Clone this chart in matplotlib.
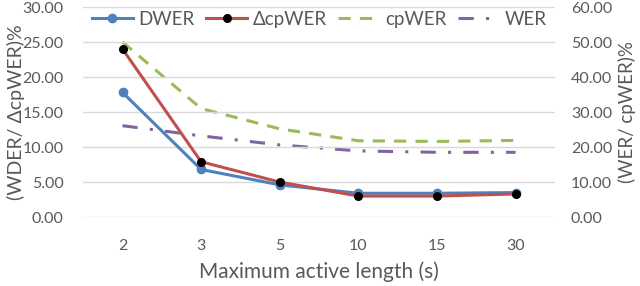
import matplotlib.pyplot as plt
import matplotlib as mpl
import numpy as np

TEXT_COLOR = '#595959'
GRID_COLOR = '#d9d9d9'

mpl.rcParams['font.family'] = ['Lato', 'DejaVu Sans']
mpl.rcParams['text.color'] = TEXT_COLOR
mpl.rcParams['axes.labelcolor'] = TEXT_COLOR
mpl.rcParams['xtick.color'] = TEXT_COLOR
mpl.rcParams['ytick.color'] = TEXT_COLOR

lengths = ['2', '3', '5', '10', '15', '30']
dwer = [17.8, 6.8, 4.6, 3.4, 3.4, 3.5]
dcpwer = [24.0, 7.9, 5.0, 3.0, 3.0, 3.3]
cpwer = [50.0, 31.0, 25.2, 21.8, 21.6, 21.9]
wer = [26.1, 23.2, 20.6, 18.9, 18.5, 18.5]

x = np.arange(len(lengths))

fig, ax1 = plt.subplots(figsize=(6.4, 2.86), dpi=100)
fig.subplots_adjust(left=0.13, right=0.867, bottom=0.241, top=0.9755)
ax2 = ax1.twinx()

l1, = ax1.plot(x, dwer, color='#4F81BD', lw=2.2, marker='o', ms=6, label='DWER', zorder=3)
l2, = ax1.plot(x, dcpwer, color='#C0504D', lw=2.2, marker='o', ms=5.5,
               markerfacecolor='black', markeredgecolor='black', label='\u0394cpWER', zorder=4)
l3, = ax2.plot(x, cpwer, color='#9BBB59', lw=2.2, ls=(0, (4, 3)), label='cpWER')
l4, = ax2.plot(x, wer, color='#8064A2', lw=2.2, ls=(0, (5, 4, 1, 4)), label='WER')

ax1.set_xlim(-0.5, len(lengths) - 0.5)
ax1.set_xticks(x)
ax1.set_xticklabels(lengths)
ax1.set_ylim(0, 30)
ax1.set_yticks(np.arange(0, 31, 5))
ax2.set_ylim(0, 60)
ax2.set_yticks(np.arange(0, 61, 10))
ax1.yaxis.set_major_formatter(mpl.ticker.FormatStrFormatter('%.2f'))
ax2.yaxis.set_major_formatter(mpl.ticker.FormatStrFormatter('%.2f'))

for ax in (ax1, ax2):
    for s in ax.spines.values():
        s.set_visible(False)
    ax.tick_params(length=0, labelsize=11.5)
ax1.tick_params(axis='x', pad=16)
ax1.tick_params(axis='y', pad=14)
ax2.tick_params(axis='y', pad=11.5)
ax1.grid(axis='y', color=GRID_COLOR, lw=1)
ax1.set_axisbelow(True)
ax2.set_zorder(0)
ax1.set_zorder(1)
ax1.patch.set_visible(False)

ax1.set_xlabel('Maximum active length (s)', fontsize=15, labelpad=6)
ax1.set_ylabel('(WDER/ \u0394cpWER)%', fontsize=14)
ax2.set_ylabel('(WER/ cpWER)%', fontsize=13.5)
ax1.yaxis.set_label_coords(-0.123, 0.5)
ax2.yaxis.set_label_coords(1.133, 0.5)

leg = ax1.legend(handles=[l1, l2, l3, l4], ncol=4, loc='upper center',
                 bbox_to_anchor=(0.5, 0.99), frameon=True, fontsize=13.5,
                 handlelength=2.2, columnspacing=0.6, handletextpad=0.3,
                 borderaxespad=0.0, borderpad=0.1)
leg.get_frame().set_edgecolor('none')
leg.get_frame().set_facecolor('white')
leg.get_frame().set_alpha(1)

fig.savefig('out.png', dpi=100)
